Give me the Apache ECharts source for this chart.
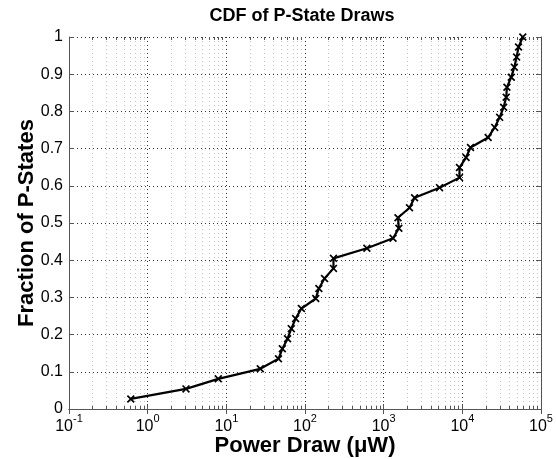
<!DOCTYPE html>
<html>
<head>
<meta charset="utf-8">
<script src="https://cdn.jsdelivr.net/npm/echarts@6/dist/echarts.min.js"></script>
<style>
  html, body { margin: 0; padding: 0; background: #fff; }
  #chart { width: 556px; height: 459px; }
</style>
</head>
<body>
<div id="chart"></div>
<script>
// Power draw of each P-state (µW), sorted for the empirical CDF
const powerDraw = [
  0.61, 3.07, 7.9, 27, 46, 51.5, 60, 67, 76, 90,
  137, 150, 177, 230, 230, 612, 1315, 1560, 1520, 2130,
  2470, 5130, 9200, 9200, 11150, 12700, 21300, 25800, 29800, 33500,
  36100, 36900, 41900, 45800, 49000, 51800, 58700
];
// Cumulative fraction of P-states at each draw
const fraction = [
  0.027, 0.054, 0.081, 0.108, 0.135, 0.162, 0.189, 0.216, 0.243, 0.270,
  0.297, 0.324, 0.351, 0.378, 0.405, 0.432, 0.459, 0.486, 0.514, 0.541,
  0.568, 0.595, 0.622, 0.649, 0.676, 0.703, 0.730, 0.757, 0.784, 0.811,
  0.838, 0.865, 0.892, 0.919, 0.946, 0.973, 1.000
];
const xDecades = [-1, 0, 1, 2, 3, 4, 5];
const yTicks = [0, 0.1, 0.2, 0.3, 0.4, 0.5, 0.6, 0.7, 0.8, 0.9, 1];

const xMin = Math.pow(10, xDecades[0]);
const xMax = Math.pow(10, xDecades[xDecades.length - 1]);

// minor log positions 2..9 within each decade
const minorVals = [];
for (let i = 0; i < xDecades.length - 1; i++) {
  for (let m = 2; m <= 9; m++) minorVals.push(m * Math.pow(10, xDecades[i]));
}

const FONT = '"Liberation Sans", Arial, Helvetica, sans-serif';
const AXIS_COLOR = '#555';
const MAJOR_GRID = { show: true, lineStyle: { color: '#333', type: [1, 3], width: 1 } };
const MINOR_GRID = { show: true, lineStyle: { color: '#c4c4c4', type: [1, 3], width: 1 } };

// bold "x" marker
const xSymbol = 'path://M0,1.5L1.5,0L5,3.5L8.5,0L10,1.5L6.5,5L10,8.5L8.5,10L5,6.5L1.5,10L0,8.5L3.5,5Z';

function baseLogAxis(extra) {
  return Object.assign({
    type: 'log',
    logBase: 10,
    min: xMin,
    max: xMax,
    interval: 1,
    axisLine: { show: false },
    axisTick: { show: false },
    axisLabel: { show: false },
    splitLine: { show: false }
  }, extra);
}

const chart = echarts.init(document.getElementById('chart'), null, { renderer: 'canvas' });

chart.setOption({
  animation: false,
  backgroundColor: '#fff',
  title: {
    text: 'CDF of P-State Draws',
    left: 297,
    textAlign: 'center',
    top: 2,
    textStyle: { fontFamily: FONT, fontSize: 18, fontWeight: 'bold', color: '#000' }
  },
  grid: { left: 69, right: 15, top: 37, bottom: 50, containLabel: false, outerBoundsMode: 'none' },
  xAxis: [
    baseLogAxis({
      position: 'bottom',
      name: 'Power Draw (\u03BCW)',
      nameLocation: 'middle',
      nameGap: 26,
      nameMoveOverlap: false,
      nameTextStyle: { fontFamily: FONT, fontSize: 22, fontWeight: 'bold', color: '#000' },
      axisLine: { show: true, lineStyle: { color: AXIS_COLOR, width: 1 } },
      axisTick: { show: true, inside: true, length: 5, lineStyle: { color: AXIS_COLOR } },
      splitLine: MAJOR_GRID,
      axisLabel: {
        show: true,
        margin: 4,
        formatter: function (v) {
          const e = Math.round(Math.log10(v));
          return '{b|10}{s|' + e + '}';
        },
        rich: {
          b: { fontFamily: FONT, fontSize: 16, color: '#000', lineHeight: 22, verticalAlign: 'bottom' },
          s: { fontFamily: FONT, fontSize: 11, color: '#000', lineHeight: 11, verticalAlign: 'top' }
        }
      }
    }),
    baseLogAxis({
      position: 'top',
      axisLine: { show: true, lineStyle: { color: AXIS_COLOR, width: 1 } },
      axisTick: { show: true, inside: true, length: 5, lineStyle: { color: AXIS_COLOR } }
    }),
    baseLogAxis({
      position: 'bottom',
      axisTick: { show: true, inside: true, length: 3, customValues: minorVals, lineStyle: { color: AXIS_COLOR } },
      splitLine: MINOR_GRID
    }),
    baseLogAxis({
      position: 'top',
      axisTick: { show: true, inside: true, length: 3, customValues: minorVals, lineStyle: { color: AXIS_COLOR } }
    })
  ],
  yAxis: [
    {
      type: 'value',
      position: 'left',
      min: yTicks[0],
      max: yTicks[yTicks.length - 1],
      interval: 0.1,
      name: 'Fraction of P-States',
      nameLocation: 'middle',
      nameGap: 31,
      nameMoveOverlap: false,
      nameTextStyle: { fontFamily: FONT, fontSize: 22, fontWeight: 'bold', color: '#000' },
      axisLine: { show: true, lineStyle: { color: AXIS_COLOR, width: 1 } },
      axisTick: { show: true, inside: true, length: 5, lineStyle: { color: AXIS_COLOR } },
      axisLabel: {
        show: true,
        margin: 6,
        fontFamily: FONT,
        fontSize: 16,
        color: '#000',
        formatter: function (v) { return String(Math.round(v * 10) / 10); }
      },
      splitLine: MAJOR_GRID
    },
    {
      type: 'value',
      position: 'right',
      min: yTicks[0],
      max: yTicks[yTicks.length - 1],
      interval: 0.1,
      axisLine: { show: true, lineStyle: { color: AXIS_COLOR, width: 1 } },
      axisTick: { show: true, inside: true, length: 5, lineStyle: { color: AXIS_COLOR } },
      axisLabel: { show: false },
      splitLine: { show: false }
    }
  ],
  series: [
    {
      type: 'line',
      xAxisIndex: 0,
      yAxisIndex: 0,
      data: powerDraw.map(function (p, i) { return [p, fraction[i]]; }),
      lineStyle: { color: '#000', width: 2.2 },
      itemStyle: { color: '#000' },
      symbol: xSymbol,
      symbolSize: 8,
      showSymbol: true,
      z: 5
    }
  ]
});
</script>
</body>
</html>
